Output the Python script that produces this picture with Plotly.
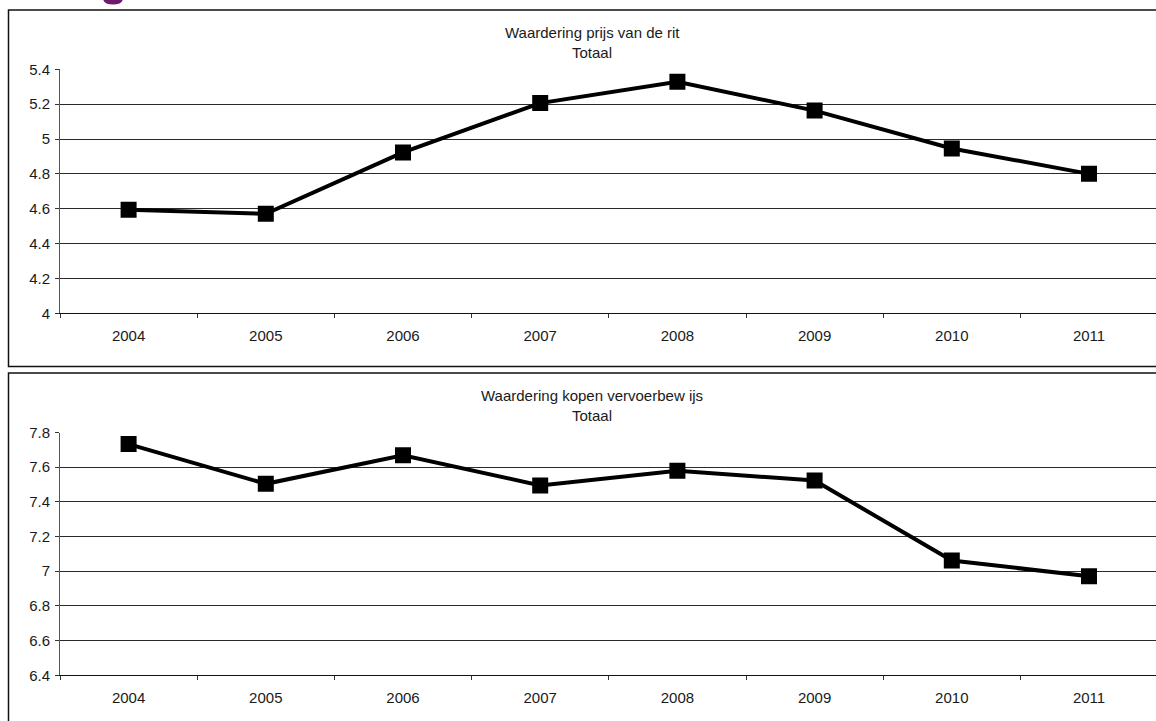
import plotly.graph_objects as go

W, H = 1156, 721

years = ["2004", "2005", "2006", "2007", "2008", "2009", "2010", "2011"]
prijs_rit = [4.594, 4.571, 4.923, 5.206, 5.329, 5.163, 4.946, 4.800]
kopen_vervoerbewijs = [7.733, 7.504, 7.669, 7.495, 7.579, 7.523, 7.062, 6.971]

title_top = ["Waardering prijs van de rit", "Totaal"]
title_bottom = ["Waardering kopen vervoerbew ijs", "Totaal"]

FONT = "Liberation Sans, Arial, sans-serif"
TXT = "#1a1a1a"
FS = 15


def px_x(p):
    return p / W


def px_y(p):
    return 1 - p / H


fig = go.Figure()

line_style = dict(color="black", width=4)
marker_style = dict(symbol="square", size=16, color="black")

fig.add_trace(go.Scatter(x=years, y=prijs_rit, mode="lines+markers",
                         line=line_style, marker=marker_style,
                         xaxis="x", yaxis="y", showlegend=False))
fig.add_trace(go.Scatter(x=years, y=kopen_vervoerbewijs, mode="lines+markers",
                         line=line_style, marker=marker_style,
                         xaxis="x2", yaxis="y2", showlegend=False))

# category slots are 137.2px wide, starting at the y axis (x=60)
x_left, slot = 60.0, 137.2
xaxis_common = dict(
    type="category",
    range=[-0.5, -0.5 + (W - x_left) / slot],
    domain=[px_x(x_left), 1],
    showgrid=False,
    showline=True, linecolor="#111", linewidth=1,
    ticks="outside", ticklen=4, tickcolor="#333", tickwidth=1,
    tickson="boundaries",
    ticklabelstandoff=9,
    tickfont=dict(family=FONT, size=FS, color=TXT),
    zeroline=False,
    automargin=False,
)
yaxis_common = dict(
    dtick=0.2,
    showgrid=True, gridcolor="#2a2a2a", gridwidth=1,
    showline=True, linecolor="#555", linewidth=1,
    ticks="outside", ticklen=4, tickcolor="#333", tickwidth=1,
    ticklabelstandoff=2,
    tickfont=dict(family=FONT, size=FS, color=TXT),
    zeroline=False,
    automargin=False,
)

fig.update_layout(
    width=W, height=H,
    margin=dict(l=0, r=0, t=0, b=0, pad=0, autoexpand=False),
    paper_bgcolor="white", plot_bgcolor="white",
    xaxis=dict(xaxis_common, anchor="y"),
    yaxis=dict(yaxis_common, range=[4, 5.4],
               domain=[px_y(313.3), px_y(69.3)], anchor="x"),
    xaxis2=dict(xaxis_common, anchor="y2"),
    yaxis2=dict(yaxis_common, range=[6.4, 7.8],
                domain=[px_y(675.3), px_y(432.5)], anchor="x2"),
)

# panel frames
frame = dict(type="rect", xref="paper", yref="paper",
             line=dict(color="#111", width=1.5), fillcolor="rgba(0,0,0,0)",
             layer="below")
fig.add_shape(frame, x0=px_x(8.5), x1=1.05, y0=px_y(366.5), y1=px_y(10))
fig.add_shape(frame, x0=px_x(8.5), x1=1.05, y0=px_y(740), y1=px_y(373))

# chart titles
for lines, y1, y2 in ((title_top, 33, 53), (title_bottom, 395, 415)):
    for txt, yc in zip(lines, (y1, y2)):
        fig.add_annotation(text=txt, xref="paper", yref="paper",
                           x=px_x(592), y=px_y(yc), xanchor="center",
                           yanchor="middle", showarrow=False,
                           font=dict(family=FONT, size=FS, color=TXT))

# lower curve of the page heading, running off the top edge
fig.add_shape(type="path", xref="paper", yref="paper",
              path=(f"M {px_x(103)},{px_y(-1)} "
                    f"Q {px_x(104)},{px_y(4.5)} {px_x(113)},{px_y(4.5)} "
                    f"Q {px_x(122)},{px_y(4.5)} {px_x(123)},{px_y(-1)} Z"),
              fillcolor="#6d1a6d", line=dict(width=0))

fig.write_html("out.html")
